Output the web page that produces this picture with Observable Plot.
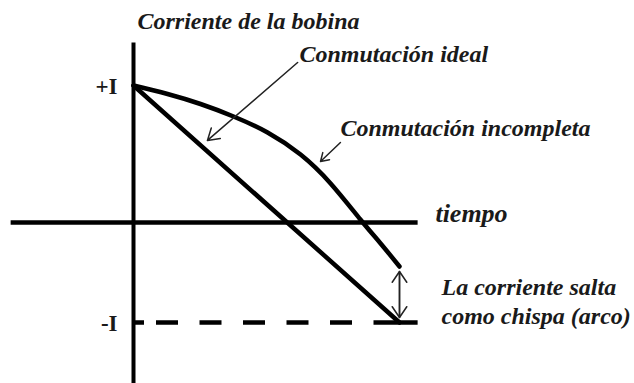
<!DOCTYPE html>
<html><head><meta charset="utf-8">
<script src="https://cdn.jsdelivr.net/npm/d3@7"></script>
<script src="https://cdn.jsdelivr.net/npm/@observablehq/plot@0.6"></script>
<style>body{margin:0;background:#fff} svg text{font-family:"Liberation Serif",serif}</style>
</head><body><div id="chart"></div>
<script>
// Data (time t: 0 = start of commutation, 1 = end; current i in units of I)
const idealT = [0, 1];
const idealI = [1, -1];
const incompleteT = [0, 0.128, 0.252, 0.376, 0.504, 0.628, 0.741, 0.853, 0.929, 1.0];
const incompleteI = [1, 0.938, 0.865, 0.774, 0.657, 0.496, 0.285, 0.022, -0.21, -0.44];
const yTickValues = [1, -1];
const yTickLabels = ["+I", "-I"];
const timeAxisExtent = [-0.46, 1.07];
const currentAxisExtent = [-1.61, 1.31];
const finalLevel = -1;
const sparkTime = 1.0;
const sparkRange = [-0.44, -1];

const titleText = "Corriente de la bobina";
const timeText = "tiempo";
const idealText = "Conmutación ideal";
const incompleteText = "Conmutación incompleta";
const sparkText = "La corriente salta\ncomo chispa (arco)";

// annotation anchors (data units)
const labelAnchors = [
  {text: titleText, t: 0.015, i: 1.465, size: 24},
  {text: idealText, t: 0.624, i: 1.224, size: 24},
  {text: incompleteText, t: 0.778, i: 0.684, size: 24},
  {text: timeText, t: 1.135, i: 0.061, size: 26}
];
const idealLeader = [{t1: 0.617, i1: 1.168, t2: 0.278, i2: 0.599}];
const incompleteLeader = [{t1: 0.778, i1: 0.584, t2: 0.703, i2: 0.445}];

const ideal = idealT.map((t, k) => ({t, i: idealI[k]}));
const incomplete = incompleteT.map((t, k) => ({t, i: incompleteI[k]}));
const serif = "Liberation Serif, serif";

const chart = Plot.plot({
  width: 634, height: 383,
  marginLeft: 133, marginRight: 235, marginTop: 0, marginBottom: 0,
  x: {type: "linear", domain: [0, 1], range: [133, 399], axis: null},
  y: {type: "linear", domain: [-1, 0, 1], range: [322, 222, 85]},
  style: {fontFamily: serif, background: "#fff", color: "#1a1a1a"},
  marks: [
    Plot.ruleY([{i: 0, a: timeAxisExtent[0], b: timeAxisExtent[1]}], {y: "i", x1: "a", x2: "b", stroke: "#000", strokeWidth: 4.5}),
    Plot.ruleX([{t: 0, a: currentAxisExtent[0], b: currentAxisExtent[1]}], {x: "t", y1: "a", y2: "b", stroke: "#000", strokeWidth: 4}),
    Plot.ruleY([{i: finalLevel, a: 0, b: timeAxisExtent[1]}], {y: "i", x1: "a", x2: "b", stroke: "#000", strokeWidth: 4.5,
      strokeDasharray: "11 12 22 21.5 22 21.5 22 21.5 22 21.5 22 21.5 60"}),
    Plot.line(ideal, {x: "t", y: "i", stroke: "#000", strokeWidth: 4.5}),
    Plot.line(incomplete, {x: "t", y: "i", curve: "natural", stroke: "#000", strokeWidth: 4.5}),
    Plot.arrow(idealLeader, {x1: "t1", y1: "i1", x2: "t2", y2: "i2", headLength: 13, headAngle: 64, stroke: "#222", strokeWidth: 1.5}),
    Plot.arrow(incompleteLeader, {x1: "t1", y1: "i1", x2: "t2", y2: "i2", headLength: 11, headAngle: 64, stroke: "#222", strokeWidth: 1.5}),
    Plot.arrow([{t: sparkTime, a: sparkRange[1], b: sparkRange[0]}], {x1: "t", x2: "t", y1: "a", y2: "b", headLength: 13, headAngle: 68, stroke: "#222", strokeWidth: 1.5, inset: 5}),
    Plot.arrow([{t: sparkTime, a: sparkRange[0], b: sparkRange[1]}], {x1: "t", x2: "t", y1: "a", y2: "b", headLength: 13, headAngle: 68, stroke: "#222", strokeWidth: 1.5, inset: 5}),
    Plot.axisY({ticks: yTickValues, tickFormat: d => yTickLabels[yTickValues.indexOf(d)], tickSize: 0, tickPadding: 16,
      fontSize: 23, fontWeight: "bold", fontFamily: serif, label: null, dy: 1}),
    Plot.text(labelAnchors, {x: "t", y: "i", text: "text", fontSize: "size", textAnchor: "start", lineAnchor: "middle",
      fontFamily: serif, fontStyle: "italic", fontWeight: "bold", fill: "#1a1a1a"}),
    Plot.text([{t: 1.158, i: -0.53, text: sparkText}], {x: "t", y: "i", text: "text", fontSize: 24, textAnchor: "start",
      lineAnchor: "top", lineHeight: 1.17, fontFamily: serif, fontStyle: "italic", fontWeight: "bold", fill: "#1a1a1a"})
  ]
});
document.getElementById("chart").append(chart);
</script>
</body></html>
